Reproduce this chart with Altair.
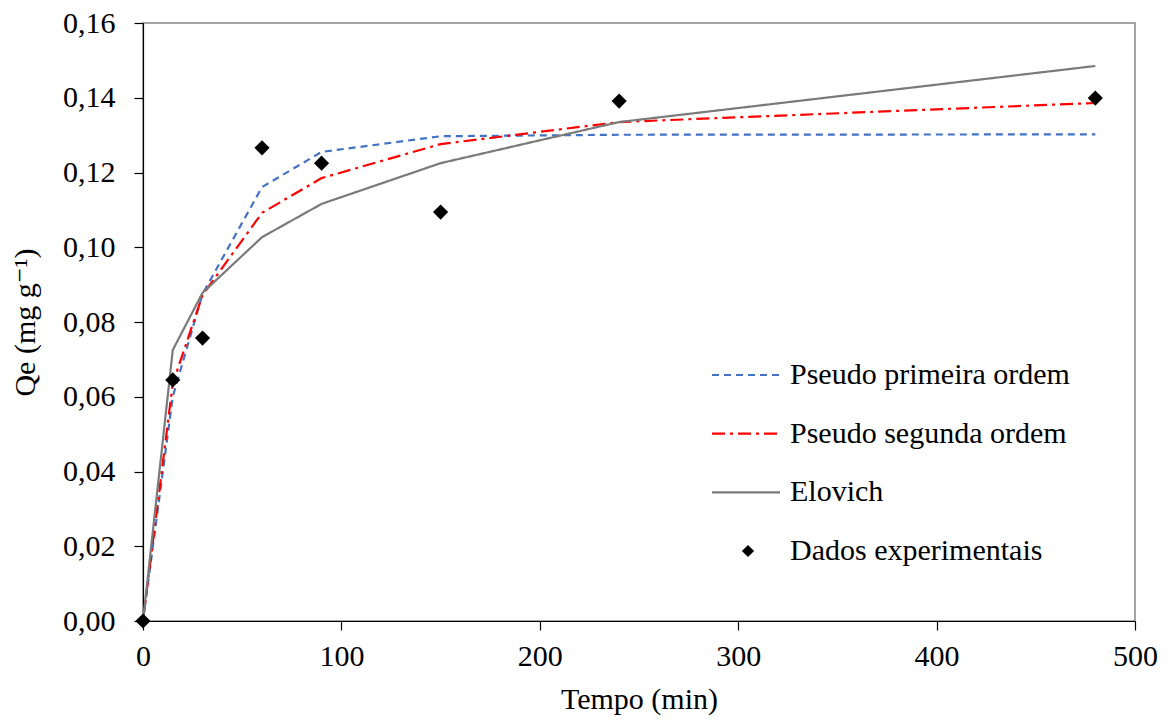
import altair as alt
import pandas as pd

# ---- data ----
tempo = [0, 15, 30, 60, 90, 150, 240, 480]
qe_exp = [0.0, 0.0645, 0.0757, 0.1266, 0.1225, 0.1094, 0.1391, 0.1399]
pseudo1 = [0.0, 0.0600, 0.0875, 0.1161, 0.1255, 0.1297, 0.1301, 0.1302]
pseudo2 = [0.0, 0.0635, 0.0872, 0.1092, 0.1185, 0.1276, 0.1335, 0.1386]
elovich = [0.0, 0.0725, 0.0878, 0.1027, 0.1116, 0.1225, 0.1335, 0.1485]

series_names = ["Pseudo primeira ordem", "Pseudo segunda ordem", "Elovich", "Dados experimentais"]
series_colors = ["#4472C4", "#FF0000", "#7a7a7a", "#000000"]
series_dashes = [[7, 5], [13, 5, 3, 5], [1, 0], [1, 0]]
series_widths = [2.2, 2.2, 1, 1]

rows = []
for name, vals in zip(series_names[:3], [pseudo1, pseudo2, elovich]):
    for t, v in zip(tempo, vals):
        rows.append({"tempo": t, "qe": v, "series": name})
lines_df = pd.DataFrame(rows)
exp_df = pd.DataFrame({"tempo": tempo, "qe": qe_exp, "series": series_names[3]})
legend_df = pd.DataFrame({"series": series_names})

FONT = "Liberation Serif, Times New Roman, DejaVu Serif, serif"
FS = 30

x_scale = alt.Scale(domain=[0, 500], nice=False)
y_scale = alt.Scale(domain=[0, 0.16], nice=False)
color_scale = alt.Scale(domain=series_names, range=series_colors)
dash_scale = alt.Scale(domain=series_names, range=series_dashes)
width_scale = alt.Scale(domain=series_names, range=series_widths)

x_axis = alt.Axis(values=[0, 100, 200, 300, 400, 500], title="Tempo (min)", grid=False,
                  tickSize=9, labelPadding=11, titlePadding=13, labelFlush=False,
                  domainColor="#000000", tickColor="#000000")
y_axis = alt.Axis(values=[0, 0.02, 0.04, 0.06, 0.08, 0.10, 0.12, 0.14, 0.16],
                  labelExpr="replace(format(datum.value, '.2f'), '.', ',')",
                  title="Qe (mg g\u207b\u00b9)", grid=False, tickSize=9, labelPadding=19,
                  titlePadding=22, labelFlush=False, domainColor="#000000", tickColor="#000000")

lines = alt.Chart(lines_df).mark_line(strokeCap="butt").encode(
    x=alt.X("tempo:Q", scale=x_scale, axis=x_axis),
    y=alt.Y("qe:Q", scale=y_scale, axis=y_axis),
    color=alt.Color("series:N", scale=color_scale, legend=None),
    strokeDash=alt.StrokeDash("series:N", scale=dash_scale, legend=None),
    strokeWidth=alt.StrokeWidth("series:N", scale=width_scale, legend=None),
    detail="series:N",
)

points = alt.Chart(exp_df).mark_point(shape="diamond", filled=True, size=230, opacity=1).encode(
    x=alt.X("tempo:Q", scale=x_scale, axis=x_axis),
    y=alt.Y("qe:Q", scale=y_scale, axis=None),
    color=alt.Color("series:N", scale=color_scale, legend=None),
)

# ---- manual legend inside the plot ----
leg_y = alt.Y("series:N", scale=alt.Scale(type="point", domain=series_names, range=[352, 528], padding=0), axis=None)

leg_lines = alt.Chart(legend_df).transform_filter(
    alt.FieldOneOfPredicate(field="series", oneOf=series_names[:3])
).mark_rule(strokeCap="butt").encode(
    x=alt.value(569), x2=alt.value(637), y=leg_y,
    color=alt.Color("series:N", scale=color_scale, legend=None),
    strokeDash=alt.StrokeDash("series:N", scale=dash_scale, legend=None),
    strokeWidth=alt.StrokeWidth("series:N", scale=width_scale, legend=None),
)

leg_point = alt.Chart(legend_df).transform_filter(
    alt.FieldEqualPredicate(field="series", equal=series_names[3])
).mark_point(shape="diamond", filled=True, size=150, opacity=1).encode(
    x=alt.value(605), y=leg_y,
    color=alt.Color("series:N", scale=color_scale, legend=None),
)

leg_text = alt.Chart(legend_df).mark_text(align="left", baseline="middle", font=FONT,
                                          fontSize=FS, color="#000000").encode(
    x=alt.value(647), y=leg_y, text="series:N",
)

chart = alt.layer(lines, points, leg_lines, leg_point, leg_text).resolve_scale(
    y="independent"
).properties(
    width=992, height=598,
    autosize=alt.AutoSizeParams(type="none"),
    padding={"left": 143, "top": 23, "right": 36, "bottom": 100},
    background="white",
).configure_view(
    stroke="#888888", strokeWidth=1.5,
).configure_axis(
    labelFont=FONT, titleFont=FONT, labelFontSize=FS, titleFontSize=FS,
    labelColor="#000000", titleColor="#000000", titleFontWeight="normal",
    domainWidth=1.2, tickWidth=1.2,
)

chart.save("out.html", embed_options={"renderer": "svg", "actions": False})
